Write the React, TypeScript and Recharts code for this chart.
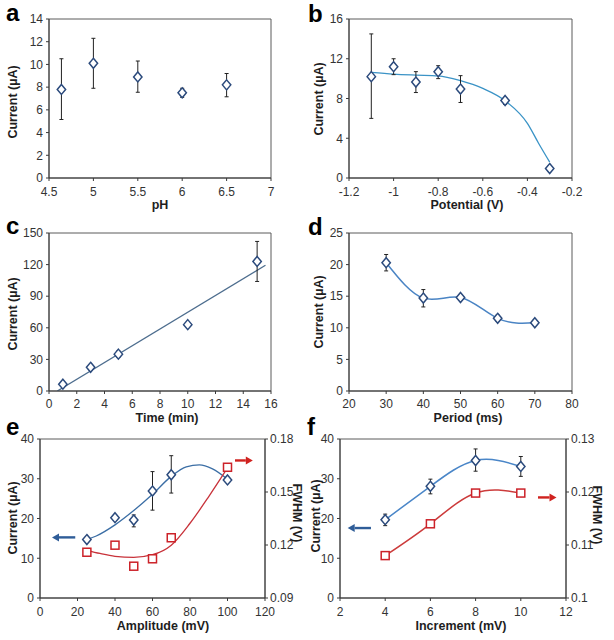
import React from 'react';
import { ComposedChart, Line, Scatter, XAxis, YAxis, ErrorBar, ReferenceArea, ReferenceLine } from 'recharts';

// ---------- Panel a : pH ----------
const phX = [4.64, 5, 5.5, 6, 6.5];
const phCurrent = [7.8, 10.1, 8.9, 7.5, 8.2];
const phLow = [5.15, 7.9, 7.55, 7.1, 7.15];
const phHigh = [10.5, 12.3, 10.3, 7.9, 9.2];
const phTicksX = [4.5, 5, 5.5, 6, 6.5, 7];
const phTicksY = [0, 2, 4, 6, 8, 10, 12, 14];

// ---------- Panel b : Potential ----------
const potX = [-1.1, -1.0, -0.9, -0.8, -0.7, -0.5, -0.3];
const potCurrent = [10.2, 11.2, 9.65, 10.7, 8.95, 7.8, 0.95];
const potLow = [6.0, 10.4, 8.6, 10.0, 7.6, 7.4, 0.65];
const potHigh = [14.5, 12.0, 10.7, 11.3, 10.3, 8.1, 1.25];
const potFitX = [-1.1, -1.0, -0.9, -0.8, -0.7, -0.6, -0.5, -0.4, -0.35, -0.3];
const potFitY = [10.63, 10.46, 10.36, 10.28, 9.8, 9.02, 7.78, 5.5, 3.5, 1.6];
const potTicksX = [-1.2, -1, -0.8, -0.6, -0.4, -0.2];
const potTicksY = [0, 4, 8, 12, 16];

// ---------- Panel c : Time ----------
const timeX = [1, 3, 5, 10, 15];
const timeCurrent = [6.5, 22.5, 35, 63, 123];
const timeLow = [5, 20, 32, 61, 104];
const timeHigh = [8, 25, 38, 65, 142];
const timeFitX = [0.6, 15.6];
const timeFitY = [0, 119.4];
const timeTicksX = [0, 2, 4, 6, 8, 10, 12, 14, 16];
const timeTicksY = [0, 30, 60, 90, 120, 150];

// ---------- Panel d : Period ----------
const periodX = [30, 40, 50, 60, 70];
const periodCurrent = [20.3, 14.7, 14.8, 11.5, 10.8];
const periodLow = [19.0, 13.3, 14.35, 11.0, 10.4];
const periodHigh = [21.6, 16.05, 15.25, 12.0, 11.2];
const periodTicksX = [20, 30, 40, 50, 60, 70, 80];
const periodTicksY = [0, 5, 10, 15, 20, 25];

// ---------- Panel e : Amplitude ----------
const ampX = [25, 40, 50, 60, 70, 100];
const ampCurrent = [14.7, 20.2, 19.6, 26.9, 31.0, 29.7];
const ampLow = [14.2, 19.6, 17.9, 22.1, 26.4, 29.2];
const ampHigh = [15.2, 20.8, 20.9, 31.8, 35.8, 30.2];
const ampFwhm = [0.1159, 0.1199, 0.108, 0.1122, 0.1241, 0.164];
const ampCurFitX = [25, 30, 40, 50, 60, 70, 78, 85, 92, 100];
const ampCurFitY = [14.7, 15.6, 18.4, 22.0, 26.1, 30.6, 33.0, 33.5, 32.5, 29.9];
const ampFwFitX = [25, 32, 40, 50, 60, 70, 80, 90, 100];
const ampFwFitY = [0.117, 0.1152, 0.1136, 0.113, 0.1145, 0.1199, 0.1323, 0.1474, 0.1636];
const ampTicksX = [0, 20, 40, 60, 80, 100, 120];
const ampTicksY = [0, 10, 20, 30, 40];
const ampTicksY2 = [0.09, 0.12, 0.15, 0.18];

// ---------- Panel f : Increment ----------
const incX = [4, 6, 8, 10];
const incCurrent = [19.7, 28.1, 34.6, 33.1];
const incLow = [18.2, 26.2, 31.9, 30.6];
const incHigh = [21.1, 29.9, 37.5, 35.6];
const incFwhm = [0.108, 0.114, 0.1198, 0.1198];
const incTicksX = [2, 4, 6, 8, 10, 12];
const incTicksY = [0, 10, 20, 30, 40];
const incTicksY2 = [0.1, 0.11, 0.12, 0.13];

// ---------- helpers ----------
const pts = (xs: number[], ys: number[], lo?: number[], hi?: number[]) =>
  xs.map((x, i) => ({ x, y: ys[i], err: lo && hi ? [ys[i] - lo[i], hi[i] - ys[i]] : [0, 0] }));

const FONT = "'Liberation Sans', Arial, Helvetica, sans-serif";
const AXIS = '#3a3a3a';
const FRAME = '#5a5a5a';
const TICK_TXT = '#333333';
const TITLE = '#1e1e1e';
const NAVY = '#2b4a7c';
const RED = '#cc2229';

const YW = 40;
const RW = 40;
const MT = 6;
const XH = 30;

type Rect = { l: number; t: number; r: number; b: number };

function geom(rect: Rect, right: boolean) {
  const mr = right ? 4 : 18;
  return {
    style: { position: 'absolute' as const, left: rect.l - YW, top: rect.t - MT },
    width: YW + (rect.r - rect.l) + (right ? RW : 0) + mr,
    height: MT + (rect.b - rect.t) + XH,
    margin: { top: MT, right: mr, bottom: 0, left: 0 },
  };
}

const tickStyle = { fontSize: 12, fill: TICK_TXT, fontFamily: FONT };

const xCommon = {
  type: 'number' as const,
  dataKey: 'x',
  interval: 0 as const,
  tickSize: 3,
  tickMargin: 6,
  stroke: AXIS,
  tick: tickStyle,
  height: XH,
  allowDataOverflow: true,
};

const yCommon = {
  type: 'number' as const,
  dataKey: 'y',
  interval: 0 as const,
  tickSize: 3,
  tickMargin: 3,
  stroke: AXIS,
  tick: tickStyle,
  width: YW,
  allowDataOverflow: true,
};

const Diamond = (p: any) => {
  const { cx, cy } = p;
  if (cx == null || cy == null) return <g />;
  return (
    <polygon
      points={`${cx},${cy - 5} ${cx + 4.2},${cy} ${cx},${cy + 5} ${cx - 4.2},${cy}`}
      fill="#ffffff"
      stroke={NAVY}
      strokeWidth={1.5}
    />
  );
};

const Square = (p: any) => {
  const { cx, cy } = p;
  if (cx == null || cy == null) return <g />;
  return <rect x={cx - 4} y={cy - 4} width={8} height={8} fill="#ffffff" stroke={RED} strokeWidth={1.5} />;
};

const Empty = () => <g />;

const arrowShape = (color: string) => (p: any) => {
  const { x1, y1, x2, y2 } = p;
  if (x1 == null) return <g />;
  const dir = x2 > x1 ? 1 : -1;
  const head = 7;
  return (
    <g>
      <line x1={x1} y1={y1} x2={x2 - dir * head} y2={y2} stroke={color} strokeWidth={2.4} />
      <polygon
        points={`${x2},${y2} ${x2 - dir * head},${y2 - 4} ${x2 - dir * head},${y2 + 4}`}
        fill={color}
      />
    </g>
  );
};

const EB = () => <ErrorBar dataKey="err" direction="y" width={2} stroke="#222222" strokeWidth={1} />;

// ---------- rects ----------
const RA: Rect = { l: 49, t: 19, r: 271, b: 178 };
const RB: Rect = { l: 349, t: 19, r: 572, b: 178 };
const RC: Rect = { l: 49, t: 233, r: 271, b: 391 };
const RD: Rect = { l: 349, t: 233, r: 572, b: 391 };
const RE: Rect = { l: 40, t: 439, r: 265, b: 598 };
const RF: Rect = { l: 340, t: 439, r: 566, b: 598 };

export default function App() {
  const ga = geom(RA, false);
  const gb = geom(RB, false);
  const gc = geom(RC, false);
  const gd = geom(RD, false);
  const ge = geom(RE, true);
  const gf = geom(RF, true);

  const phData = pts(phX, phCurrent, phLow, phHigh);
  const potData = pts(potX, potCurrent, potLow, potHigh);
  const potFit = pts(potFitX, potFitY);
  const timeData = pts(timeX, timeCurrent, timeLow, timeHigh);
  const timeFit = pts(timeFitX, timeFitY);
  const periodData = pts(periodX, periodCurrent, periodLow, periodHigh);
  const ampData = pts(ampX, ampCurrent, ampLow, ampHigh);
  const ampFw = pts(ampX, ampFwhm);
  const ampCurFit = pts(ampCurFitX, ampCurFitY);
  const ampFwFit = pts(ampFwFitX, ampFwFitY);
  const incData = pts(incX, incCurrent, incLow, incHigh);
  const incFw = pts(incX, incFwhm);

  const title = { fontFamily: FONT, fontWeight: 700 as const, fontSize: 12.5, fill: TITLE };
  const letter = { fontFamily: FONT, fontWeight: 700 as const, fontSize: 24, fill: '#000' };

  return (
    <div style={{ position: 'absolute', left: 0, top: 0, width: 614, height: 640, background: '#fff', fontFamily: FONT }}>
      {/* a */}
      <div style={ga.style}>
        <ComposedChart width={ga.width} height={ga.height} margin={ga.margin}>
          <XAxis {...xCommon} domain={[4.5, 7]} ticks={phTicksX} />
          <YAxis {...yCommon} domain={[0, 14]} ticks={phTicksY} />
          <ReferenceArea x1={4.5} x2={7} y1={0} y2={14} fill="none" stroke={FRAME} />
          <Scatter data={phData} shape={Diamond} isAnimationActive={false} />
          <Scatter data={phData} shape={Empty} isAnimationActive={false}>
            {EB()}
          </Scatter>
        </ComposedChart>
      </div>

      {/* b */}
      <div style={gb.style}>
        <ComposedChart width={gb.width} height={gb.height} margin={gb.margin}>
          <XAxis {...xCommon} domain={[-1.2, -0.2]} ticks={potTicksX} />
          <YAxis {...yCommon} domain={[0, 16]} ticks={potTicksY} />
          <ReferenceArea x1={-1.2} x2={-0.2} y1={0} y2={16} fill="none" stroke={FRAME} />
          <Line data={potFit} dataKey="y" type="monotone" stroke="#3a93c6" strokeWidth={1.3} dot={false} activeDot={false} isAnimationActive={false} />
          <Scatter data={potData} shape={Diamond} isAnimationActive={false} />
          <Scatter data={potData} shape={Empty} isAnimationActive={false}>
            {EB()}
          </Scatter>
        </ComposedChart>
      </div>

      {/* c */}
      <div style={gc.style}>
        <ComposedChart width={gc.width} height={gc.height} margin={gc.margin}>
          <XAxis {...xCommon} tickMargin={5} domain={[0, 16]} ticks={timeTicksX} />
          <YAxis {...yCommon} domain={[0, 150]} ticks={timeTicksY} />
          <ReferenceArea x1={0} x2={16} y1={0} y2={150} fill="none" stroke={FRAME} />
          <Line data={timeFit} dataKey="y" type="linear" stroke="#4d6d8e" strokeWidth={1.3} dot={false} activeDot={false} isAnimationActive={false} />
          <Scatter data={timeData} shape={Diamond} isAnimationActive={false} />
          <Scatter data={timeData} shape={Empty} isAnimationActive={false}>
            {EB()}
          </Scatter>
        </ComposedChart>
      </div>

      {/* d */}
      <div style={gd.style}>
        <ComposedChart width={gd.width} height={gd.height} margin={gd.margin}>
          <XAxis {...xCommon} tickMargin={5} domain={[20, 80]} ticks={periodTicksX} />
          <YAxis {...yCommon} domain={[0, 25]} ticks={periodTicksY} />
          <ReferenceArea x1={20} x2={80} y1={0} y2={25} fill="none" stroke={FRAME} />
          <Line data={periodData} dataKey="y" type="natural" stroke="#4a84c4" strokeWidth={1.5} dot={false} activeDot={false} isAnimationActive={false} />
          <Scatter data={periodData} shape={Diamond} isAnimationActive={false} />
          <Scatter data={periodData} shape={Empty} isAnimationActive={false}>
            {EB()}
          </Scatter>
        </ComposedChart>
      </div>

      {/* e */}
      <div style={ge.style}>
        <ComposedChart width={ge.width} height={ge.height} margin={ge.margin}>
          <XAxis {...xCommon} domain={[0, 120]} ticks={ampTicksX} />
          <YAxis {...yCommon} yAxisId="left" domain={[0, 40]} ticks={ampTicksY} />
          <YAxis {...yCommon} yAxisId="right" orientation="right" domain={[0.09, 0.18]} ticks={ampTicksY2} tickMargin={2} width={RW} />
          <ReferenceArea yAxisId="left" x1={0} x2={120} y1={0} y2={40} fill="none" stroke={FRAME} />
          <Line yAxisId="left" data={ampCurFit} dataKey="y" type="monotone" stroke="#3b6ea5" strokeWidth={1.3} dot={false} activeDot={false} isAnimationActive={false} />
          <Line yAxisId="right" data={ampFwFit} dataKey="y" type="monotone" stroke="#c8323a" strokeWidth={1.3} dot={false} activeDot={false} isAnimationActive={false} />
          <Scatter yAxisId="right" data={ampFw} shape={Square} isAnimationActive={false} />
          <Scatter yAxisId="left" data={ampData} shape={Diamond} isAnimationActive={false} />
          <Scatter yAxisId="left" data={ampData} shape={Empty} isAnimationActive={false}>
            {EB()}
          </Scatter>
          <ReferenceLine yAxisId="left" segment={[{ x: 18.8, y: 15.25 }, { x: 6.4, y: 15.25 }]} stroke="#2f5d98" shape={arrowShape('#2f5d98')} />
          <ReferenceLine yAxisId="left" segment={[{ x: 104, y: 34.6 }, { x: 113.5, y: 34.6 }]} stroke="#d0221f" shape={arrowShape('#d0221f')} />
        </ComposedChart>
      </div>

      {/* f */}
      <div style={gf.style}>
        <ComposedChart width={gf.width} height={gf.height} margin={gf.margin}>
          <XAxis {...xCommon} domain={[2, 12]} ticks={incTicksX} />
          <YAxis {...yCommon} yAxisId="left" domain={[0, 40]} ticks={incTicksY} />
          <YAxis {...yCommon} yAxisId="right" orientation="right" domain={[0.1, 0.13]} ticks={incTicksY2} tickMargin={2} width={RW} />
          <ReferenceArea yAxisId="left" x1={2} x2={12} y1={0} y2={40} fill="none" stroke={FRAME} />
          <Line yAxisId="left" data={incData} dataKey="y" type="natural" stroke="#4a86c8" strokeWidth={1.5} dot={false} activeDot={false} isAnimationActive={false} />
          <Line yAxisId="right" data={incFw} dataKey="y" type="natural" stroke="#cc3b3b" strokeWidth={1.5} dot={false} activeDot={false} isAnimationActive={false} />
          <Scatter yAxisId="right" data={incFw} shape={Square} isAnimationActive={false} />
          <Scatter yAxisId="left" data={incData} shape={Diamond} isAnimationActive={false} />
          <Scatter yAxisId="left" data={incData} shape={Empty} isAnimationActive={false}>
            {EB()}
          </Scatter>
          <ReferenceLine yAxisId="left" segment={[{ x: 3.37, y: 17.6 }, { x: 2.34, y: 17.6 }]} stroke="#2f5d98" shape={arrowShape('#2f5d98')} />
          <ReferenceLine yAxisId="left" segment={[{ x: 10.76, y: 25.3 }, { x: 11.58, y: 25.3 }]} stroke="#d0221f" shape={arrowShape('#d0221f')} />
        </ComposedChart>
      </div>

      {/* text overlay */}
      <svg width={614} height={640} style={{ position: 'absolute', left: 0, top: 0, pointerEvents: 'none' }}>
        <text x={6} y={21} style={letter}>a</text>
        <text x={308} y={22} style={letter}>b</text>
        <text x={6} y={234} style={letter}>c</text>
        <text x={308} y={235} style={letter}>d</text>
        <text x={6} y={435} style={letter}>e</text>
        <text x={307} y={435} style={letter}>f</text>

        <text x={160} y={208.5} textAnchor="middle" style={title}>pH</text>
        <text x={467} y={208.5} textAnchor="middle" style={title}>Potential (V)</text>
        <text x={167} y={421.5} textAnchor="middle" style={title}>Time (min)</text>
        <text x={468} y={421.5} textAnchor="middle" style={title}>Period (ms)</text>
        <text x={163} y={630} textAnchor="middle" style={title}>Amplitude (mV)</text>
        <text x={461} y={630} textAnchor="middle" style={title}>Increment (mV)</text>

        <text transform="translate(17,102) rotate(-90)" textAnchor="middle" style={title}>Current (µA)</text>
        <text transform="translate(323,99) rotate(-90)" textAnchor="middle" style={title}>Current (µA)</text>
        <text transform="translate(17,314) rotate(-90)" textAnchor="middle" style={title}>Current (µA)</text>
        <text transform="translate(323,312) rotate(-90)" textAnchor="middle" style={title}>Current (µA)</text>
        <text transform="translate(17,518) rotate(-90)" textAnchor="middle" style={title}>Current (µA)</text>
        <text transform="translate(320,516) rotate(-90)" textAnchor="middle" style={title}>Current (µA)</text>

        <text transform="translate(293,513) rotate(90)" textAnchor="middle" style={title}>FWHM (V)</text>
        <text transform="translate(593,515) rotate(90)" textAnchor="middle" style={title}>FWHM (V)</text>
      </svg>
    </div>
  );
}
